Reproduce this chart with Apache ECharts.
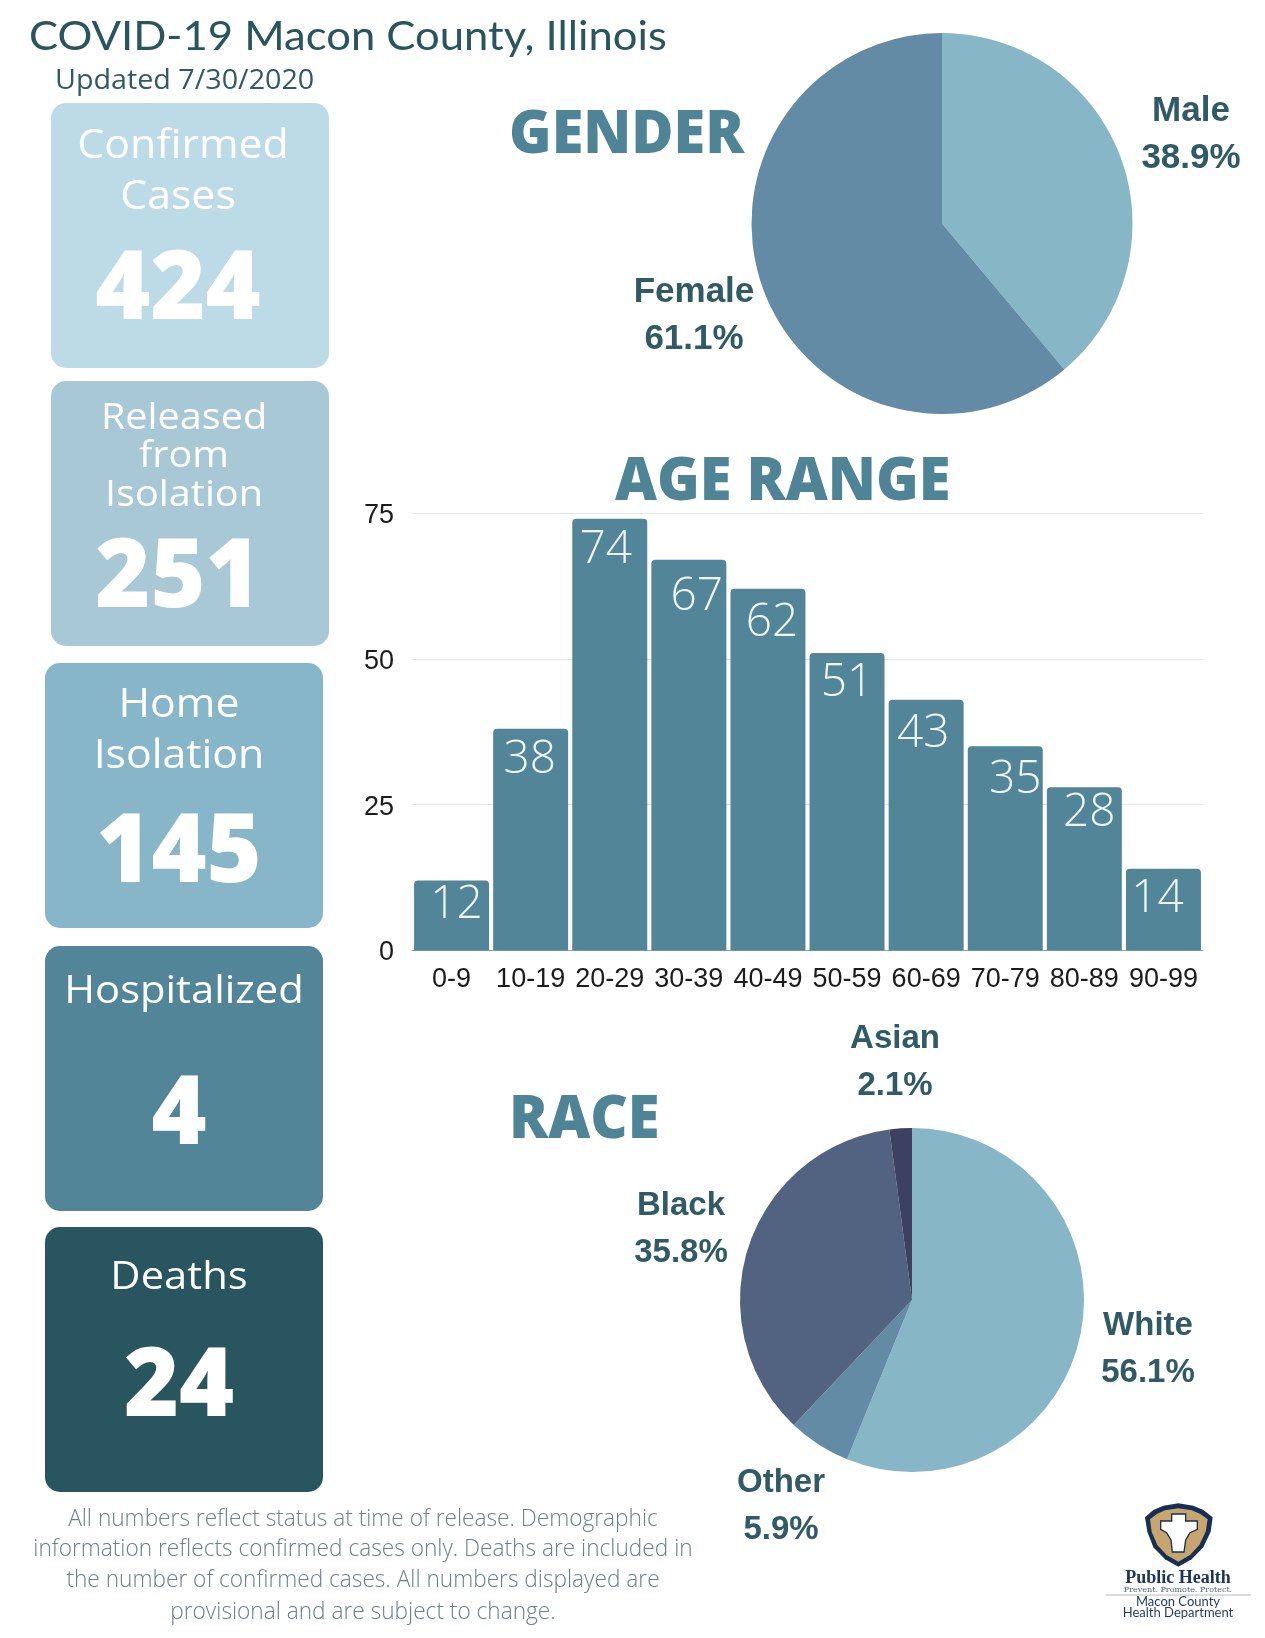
<!DOCTYPE html>
<html>
<head>
<meta charset="utf-8">
<title>COVID-19 Macon County, Illinois</title>
<style>
  html, body { margin: 0; padding: 0; background: #fff; }
  #chart { width: 1265px; height: 1638px; }
</style>
<script src="https://cdn.jsdelivr.net/npm/echarts@6/dist/echarts.min.js"></script>
</head>
<body>
<div id="chart"></div>
<script>
const ageCategories = ['0-9', '10-19', '20-29', '30-39', '40-49', '50-59', '60-69', '70-79', '80-89', '90-99']
const ageValues = [12, 38, 74, 67, 62, 51, 43, 35, 28, 14]
const genderNames = ['Male', 'Female']
const genderValues = [38.9, 61.1]
const raceNames = ['White', 'Other', 'Black', 'Asian']
const raceValues = [56.1, 5.9, 35.8, 2.1]
const statNames = ['Confirmed\nCases', 'Released\nfrom\nIsolation', 'Home\nIsolation', 'Hospitalized', 'Deaths']
const statValues = [424, 251, 145, 4, 24]

// the labels sit off-centre in the source, so nudge them by hand
const ageLabelDx = [5, -1, -4, 8, 4, 0, -3, 10, 5, -6]
const ageLabelDy = [-4, 3, 3, 9, 6, 2, 6, 6, -2, 2]

const MAIN = '#29555f'
const TEAL = '#518597'
const SANS = 'Lato, "Noto Sans", sans-serif'
const OPEN = '"Open Sans", "Noto Sans", sans-serif'
const ARIAL = '"Liberation Sans", Arial, sans-serif'

function text(str, x, y, size, color, opts) {
  const o = opts || {}
  return {
    type: 'text', x: x, y: y, scaleX: o.scaleX || 1, silent: true,
    style: {
      text: str, x: 0, y: 0, fill: color,
      font: (o.weight || 'normal') + ' ' + size + 'px ' + (o.family || SANS),
      textAlign: o.align || 'center', textVerticalAlign: 'middle'
    }
  }
}

function box(x, y, color) {
  return {
    type: 'rect', silent: true,
    shape: { x: x, y: y, width: 278, height: 265, r: 15 },
    style: { fill: color }
  }
}

const boxes = [
  box(51, 103, '#bddbe7'), box(51, 381, '#a8c8d5'), box(45, 663, '#86b6c7'),
  box(45, 946, TEAL), box(45, 1227, MAIN)
]

const lineY = [[147, 198], [418, 456, 495], [706, 757], [992], [1278]]
const lineX = [[183, 178], [184, 184, 184], [179, 179], [184], [179]]
const numY = [292, 580, 855, 1117, 1389]
const numX = [178, 178, 179, 179, 179]
const lineSize = [40, 37, 40, 39, 39]

const statTexts = []
statNames.forEach((name, i) => {
  name.split('\n').forEach((line, j) => {
    statTexts.push(text(line, lineX[i][j], lineY[i][j], lineSize[i], '#fff', { family: OPEN, scaleX: 1.07 }))
  })
  statTexts.push(text(String(statValues[i]), numX[i], numY[i], 96, '#fff', { weight: 800, family: OPEN, scaleX: 0.98 }))
})

const footnote = [
  'All numbers reflect status at time of release. Demographic',
  'information reflects confirmed cases only. Deaths are included in',
  'the number of confirmed cases. All numbers displayed are',
  'provisional and are subject to change.'
]
const footY = [1519, 1549, 1580, 1612]

const logo = [
  {
    type: 'group', x: 1060, y: 1460, scaleX: 1 / 3, scaleY: 1 / 3, silent: true,
    children: [
      { type: 'polygon', shape: { points: [[355, 130], [400, 137], [430, 150], [458, 172], [452, 215], [430, 262], [395, 298], [355, 320], [315, 298], [280, 262], [262, 215], [255, 172], [280, 150], [310, 137]] }, style: { fill: '#152f55' } },
      { type: 'polygon', shape: { points: [[355, 145], [395, 151], [420, 161], [443, 178], [437, 215], [418, 255], [390, 285], [355, 305], [320, 285], [292, 255], [275, 215], [270, 178], [292, 161], [315, 151]] }, style: { fill: '#c8a56e' } },
      { type: 'polygon', shape: { points: [[335, 162], [377, 162], [377, 183], [412, 183], [412, 208], [390, 218], [377, 240], [372, 276], [337, 276], [333, 240], [320, 218], [302, 208], [302, 183], [335, 183]] }, style: { fill: '#fff', stroke: '#152f55', lineWidth: 4 } }
    ]
  },
  text('Public Health', 1178, 1578, 18, '#1b3560', { weight: 'bold', family: '"Liberation Serif", serif' }),
  text('Prevent. Promote. Protect.', 1178, 1590, 8, '#55657c', { family: '"DejaVu Serif", serif' }),
  { type: 'line', silent: true, shape: { x1: 1106, y1: 1595, x2: 1251, y2: 1595 }, style: { stroke: '#b5b8bb', lineWidth: 1 } },
  text('Macon County', 1178, 1602, 13, '#1f3a5f'),
  text('Health Department', 1178, 1613, 13, '#1f3a5f')
]

function pieLabelLayout(spots) {
  return params => ({ x: spots[params.dataIndex][0], y: spots[params.dataIndex][1], align: 'center', verticalAlign: 'middle' })
}

function pieSeries(names, values, colors, center, radius, spots, fontSize) {
  return {
    type: 'pie', center: center, radius: radius, startAngle: 90, clockwise: true,
    silent: true, avoidLabelOverlap: false,
    data: names.map((n, i) => ({ name: n, value: values[i], itemStyle: { color: colors[i] } })),
    label: {
      formatter: p => p.name + '\n' + p.value + '%',
      color: '#2f5a66', fontFamily: ARIAL, fontWeight: 'bold', fontSize: fontSize, lineHeight: 47, align: 'center'
    },
    labelLine: { show: false },
    labelLayout: pieLabelLayout(spots)
  }
}

const chart = echarts.init(document.getElementById('chart'), null, { renderer: 'canvas' })
chart.setOption({
  animation: false,
  backgroundColor: '#fff',
  grid: { left: 412, right: 62, top: 513, bottom: 687.5, containLabel: false },
  xAxis: {
    type: 'category', data: ageCategories,
    axisTick: { show: false },
    axisLine: { lineStyle: { color: '#8fa3ab', width: 1 } },
    axisLabel: { color: '#1c1c1c', fontFamily: ARIAL, fontSize: 27, margin: 16, interval: 0 }
  },
  yAxis: {
    type: 'value', min: 0, max: 75, interval: 25,
    axisLine: { show: false }, axisTick: { show: false },
    splitLine: { lineStyle: { color: '#e3e5e7', width: 1 } },
    axisLabel: {
      margin: 18, formatter: '{v|{value}}',
      rich: { v: { color: '#1c1c1c', fontFamily: ARIAL, fontSize: 27, padding: [5, 0, 0, 0] } }
    }
  },
  series: [
    {
      type: 'bar', silent: true, barCategoryGap: '5.2%',
      itemStyle: { color: TEAL, borderRadius: [4, 4, 0, 0] },
      data: ageValues.map((v, i) => ({
        value: v,
        label: {
          show: true, position: 'insideTop', color: '#eef5f7',
          fontFamily: '"Open Sans", sans-serif', fontWeight: 300, fontSize: 46,
          offset: [ageLabelDx[i], ageLabelDy[i]]
        }
      }))
    },
    pieSeries(genderNames, genderValues, ['#87b7c7', '#648ba6'], [942, 223.5], 190.5, [[1191, 134.5], [694, 315.5]], 35),
    pieSeries(raceNames, raceValues, ['#87b7c7', '#648ba6', '#516380', '#3d4060'], [912, 1300], 172,
      [[1148, 1349], [781, 1506], [681, 1229], [895, 1062]], 33)
  ],
  graphic: {
    elements: [
      ...boxes,
      ...statTexts,
      text('COVID-19 Macon County, Illinois', 29, 37, 41, MAIN, { align: 'left', scaleX: 1.063 }),
      text('Updated 7/30/2020', 55, 81, 28, '#2f5a66', { align: 'left', family: OPEN, scaleX: 1.025 }),
      text('GENDER', 509, 136, 60, '#4f8496', { align: 'left', weight: 800, family: OPEN, scaleX: 0.96 }),
      text('AGE RANGE', 615, 483, 60, '#4f8496', { align: 'left', weight: 800, family: OPEN, scaleX: 0.964 }),
      text('RACE', 509, 1121, 60, '#4f8496', { align: 'left', weight: 800, family: OPEN, scaleX: 0.965 }),
      ...footnote.map((line, i) => text(line, 363, footY[i], 23, '#6f8088', { family: OPEN, weight: 300, scaleX: 0.985 })),
      ...logo
    ]
  }
})
</script>
</body>
</html>
